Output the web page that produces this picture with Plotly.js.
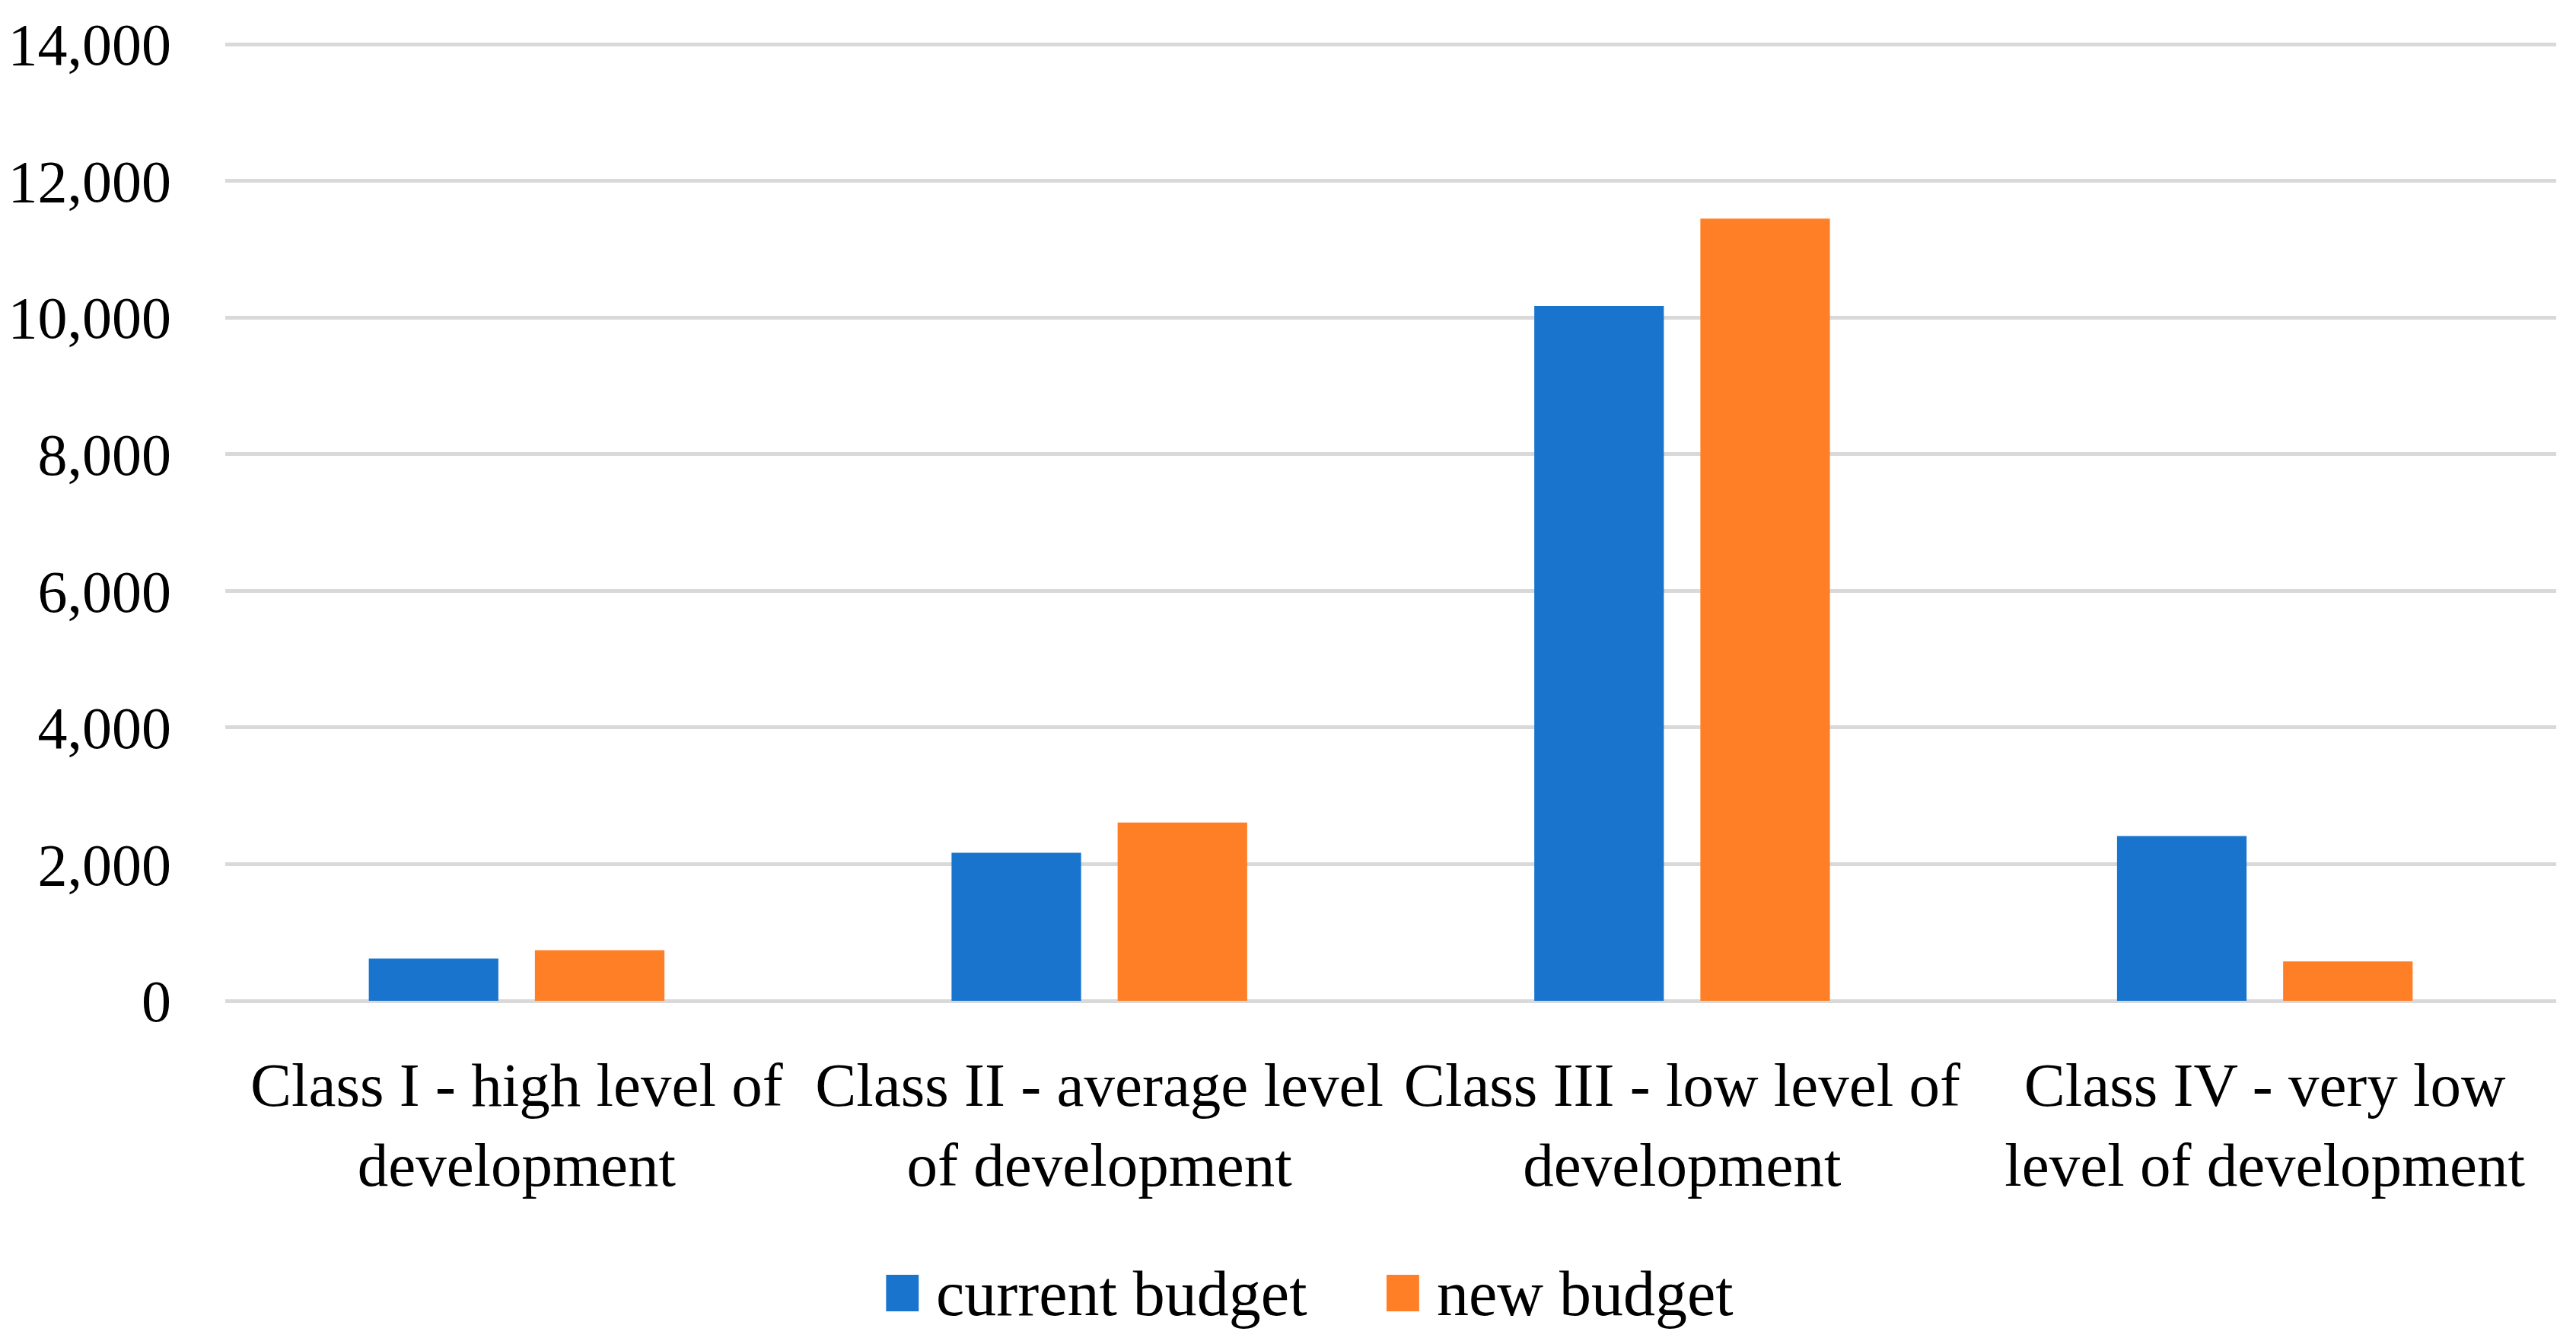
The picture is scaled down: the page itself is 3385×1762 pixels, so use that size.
<!DOCTYPE html>
<html>
<head>
<meta charset="utf-8">
<script src="https://cdn.plot.ly/plotly-3.0.1.min.js"></script>
<style>html,body{margin:0;padding:0;background:#fff}#chart{width:3385px;height:1762px}</style>
</head>
<body>
<div id="chart"></div>
<script>
const categories = [
  "Class I - high level of<br>development",
  "Class II - average level<br>of development",
  "Class III - low level of<br>development",
  "Class IV - very low<br>level of development"
];
const seriesNames = ["current budget", "new budget"];
const currentBudget = [617, 2167, 10170, 2412];
const newBudget = [742, 2609, 11446, 575];
const yTicks = [0, 2000, 4000, 6000, 8000, 10000, 12000, 14000];
const colors = ["#1874CD", "#FF7F27"];

const FONT = "Liberation Serif, Times New Roman, serif";

const traces = [
  {type: "bar", name: seriesNames[0], x: categories, y: currentBudget, marker: {color: colors[0]}, showlegend: false},
  {type: "bar", name: seriesNames[1], x: categories, y: newBudget, marker: {color: colors[1]}, showlegend: false}
];

// plot area: top margin 53, bottom 447 -> height 1262; 14000 sits 5px below top
const PLOT_H = 1762 - 53 - 447;
const yTop = 14000 * PLOT_H / 1257;
const toPaperY = (py) => (1315 - py) / PLOT_H;

// custom legend (large square keys)
const keyX = [0.2835, 0.4982];
const keyW = 0.0140;
const keyY0 = toPaperY(1675), keyY1 = toPaperY(1723);
const shapes = keyX.map((x, i) => ({
  type: "rect", xref: "paper", yref: "paper",
  x0: x, x1: x + keyW, y0: keyY0, y1: keyY1,
  fillcolor: colors[i], line: {width: 0}
}));
const annotations = keyX.map((x, i) => ({
  xref: "paper", yref: "paper", x: x + keyW + 0.0068, y: (keyY0 + keyY1) / 2,
  xanchor: "left", yanchor: "middle", showarrow: false,
  text: seriesNames[i], font: {family: FONT, size: 84, color: "#000"}
}));

const layout = {
  width: 3385, height: 1762,
  margin: {l: 296, r: 26, t: 53, b: 447},
  paper_bgcolor: "#fff", plot_bgcolor: "#fff",
  font: {family: FONT, size: 78, color: "#000"},
  barmode: "group", bargap: 0.43, bargroupgap: 0.22,
  showlegend: false,
  xaxis: {
    showgrid: false, zeroline: false, showline: false,
    ticks: "", tickangle: 0, automargin: false, ticklabelstandoff: 56,
    tickfont: {family: FONT, size: 81, color: "#000"}
  },
  yaxis: {
    range: [0, yTop], tickvals: yTicks, tickformat: ",d",
    showgrid: true, gridcolor: "#d9d9d9", gridwidth: 5,
    zeroline: true, zerolinecolor: "#d9d9d9", zerolinewidth: 5,
    showline: false, ticks: "", ticklabelstandoff: 70, automargin: false,
    tickfont: {family: FONT, size: 78, color: "#000"}
  },
  shapes: shapes,
  annotations: annotations
};

Plotly.newPlot("chart", traces, layout, {displayModeBar: false, staticPlot: true});
</script>
</body>
</html>
